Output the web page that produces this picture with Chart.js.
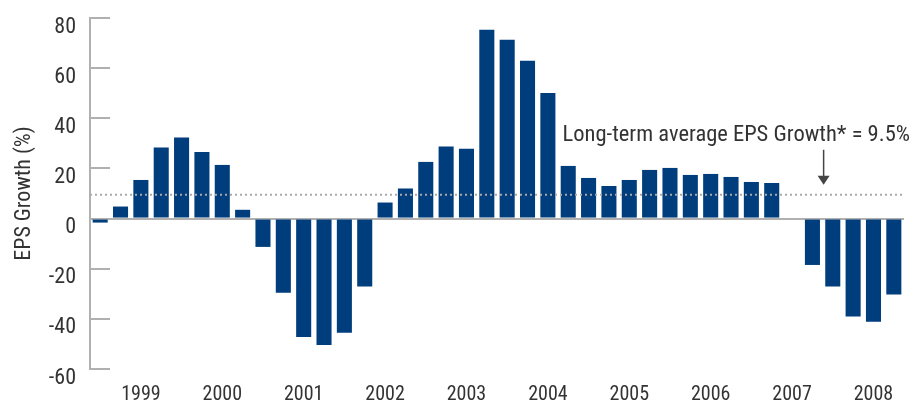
<!DOCTYPE html>
<html>
<head>
<meta charset="utf-8">
<script src="https://cdn.jsdelivr.net/npm/chart.js@4.4.0/dist/chart.umd.min.js"></script>
<style>
  html, body { margin: 0; padding: 0; background: #fff; }
  #wrap { width: 912px; height: 403px; }
</style>
</head>
<body>
<div id="wrap"><canvas id="eps"></canvas></div>
<script>
// quarterly EPS growth, 1999 Q1 .. 2008 Q4
var years = ['1999', '2000', '2001', '2002', '2003', '2004', '2005', '2006', '2007', '2008'];
var quarters = ['Q1', 'Q2', 'Q3', 'Q4'];
var epsGrowth = [
  -1.6, 4.8, 15.4, 28.3,
  32.3, 26.6, 21.4, 3.5,
  -11.3, -29.6, -47.2, -50.4,
  -45.5, -27.1, 6.4, 12.0,
  22.6, 28.7, 27.8, 75.3,
  71.3, 62.9, 50.1, 21.0,
  16.2, 13.0, 15.4, 19.4,
  20.2, 17.4, 17.8, 16.6,
  14.6, 14.2, 0.4, -18.5,
  -27.1, -39.1, -41.2, -30.3
];
var yTicks = [-60, -40, -20, 0, 20, 40, 60, 80];
var avgGrowth = 9.5;
var avgLabel = 'Long-term average EPS Growth* = 9.5%';

var labels = [];
years.forEach(function (y) {
  quarters.forEach(function (q) { labels.push(y + ' ' + q); });
});

// Roboto has a width axis, "condensed" gets close to the original face
var FONT = 'Roboto, sans-serif';
var STRETCH = 'condensed';
var TEXT = '#333333';
var AXIS = '#b0b0b0';

// short inward ticks on the y axis + average line + note
var decor = {
  id: 'decor',
  afterDatasetsDraw: function (chart) {
    var ctx = chart.ctx;
    var x = chart.scales.x, y = chart.scales.y;
    var area = chart.chartArea;
    ctx.save();
    ctx.strokeStyle = AXIS;
    ctx.lineWidth = 2;
    yTicks.forEach(function (v) {
      if (v === 0) return;
      var py = Math.round(y.getPixelForValue(v));
      ctx.beginPath();
      ctx.moveTo(area.left, py);
      ctx.lineTo(area.left + 20, py);
      ctx.stroke();
    });

    var ay = y.getPixelForValue(avgGrowth);
    ctx.strokeStyle = '#a9a9a9';
    ctx.setLineDash([2, 3]);
    ctx.beginPath();
    ctx.moveTo(area.left, ay);
    ctx.lineTo(area.right - 2, ay);
    ctx.stroke();
    ctx.setLineDash([]);

    var axx = x.getPixelForValue(35.55);
    ctx.strokeStyle = '#444';
    ctx.fillStyle = '#444';
    ctx.lineWidth = 1.5;
    ctx.beginPath();
    ctx.moveTo(axx, ay - 45);
    ctx.lineTo(axx, ay - 14);
    ctx.stroke();
    ctx.beginPath();
    ctx.moveTo(axx - 6, ay - 19);
    ctx.lineTo(axx + 6, ay - 19);
    ctx.lineTo(axx, ay - 10);
    ctx.closePath();
    ctx.fill();

    ctx.fillStyle = TEXT;
    ctx.font = STRETCH + ' 22.5px ' + FONT;
    ctx.textAlign = 'right';
    ctx.textBaseline = 'alphabetic';
    ctx.fillText(avgLabel, chart.width - 2, ay - 54);
    ctx.restore();
  }
};

new Chart(document.getElementById('eps'), {
  type: 'bar',
  data: {
    labels: labels,
    datasets: [{
      data: epsGrowth,
      backgroundColor: '#003d7c',
      borderWidth: 0,
      categoryPercentage: 1,
      barPercentage: 0.74
    }]
  },
  options: {
    responsive: true,
    maintainAspectRatio: false,
    animation: false,
    layout: { padding: { top: 18, right: 8, left: 0, bottom: 0 } },
    plugins: { legend: { display: false }, tooltip: { enabled: false } },
    scales: {
      x: {
        afterFit: function (s) { s.height = 34; s.paddingLeft = 0; s.paddingRight = 0; },
        grid: { display: false, drawTicks: false },
        border: { display: false },
        ticks: {
          autoSkip: false,
          maxRotation: 0,
          padding: 14,
          color: TEXT,
          font: { family: FONT, weight: STRETCH, size: 20 },
          callback: function (v, i) { return i % 4 === 2 ? years[Math.floor(i / 4)] : ''; }
        }
      },
      y: {
        min: -60,
        max: 80,
        afterFit: function (s) { s.width = 90; s.paddingTop = 0; s.paddingBottom = 0; },
        afterBuildTicks: function (s) { s.ticks = yTicks.map(function (v) { return { value: v }; }); },
        grid: {
          drawTicks: false,
          color: function (c) { return c.tick && c.tick.value === 0 ? AXIS : 'rgba(0,0,0,0)'; },
          lineWidth: 2
        },
        border: { display: true, color: AXIS, width: 2 },
        ticks: {
          padding: 14,
          labelOffset: 9,
          color: TEXT,
          font: { family: FONT, weight: STRETCH, size: 22 }
        },
        title: {
          display: true,
          text: 'EPS Growth (%)',
          color: TEXT,
          font: { family: FONT, weight: STRETCH, size: 22 },
          padding: { top: 11, bottom: 0 }
        }
      }
    }
  },
  plugins: [decor]
});
</script>
</body>
</html>
